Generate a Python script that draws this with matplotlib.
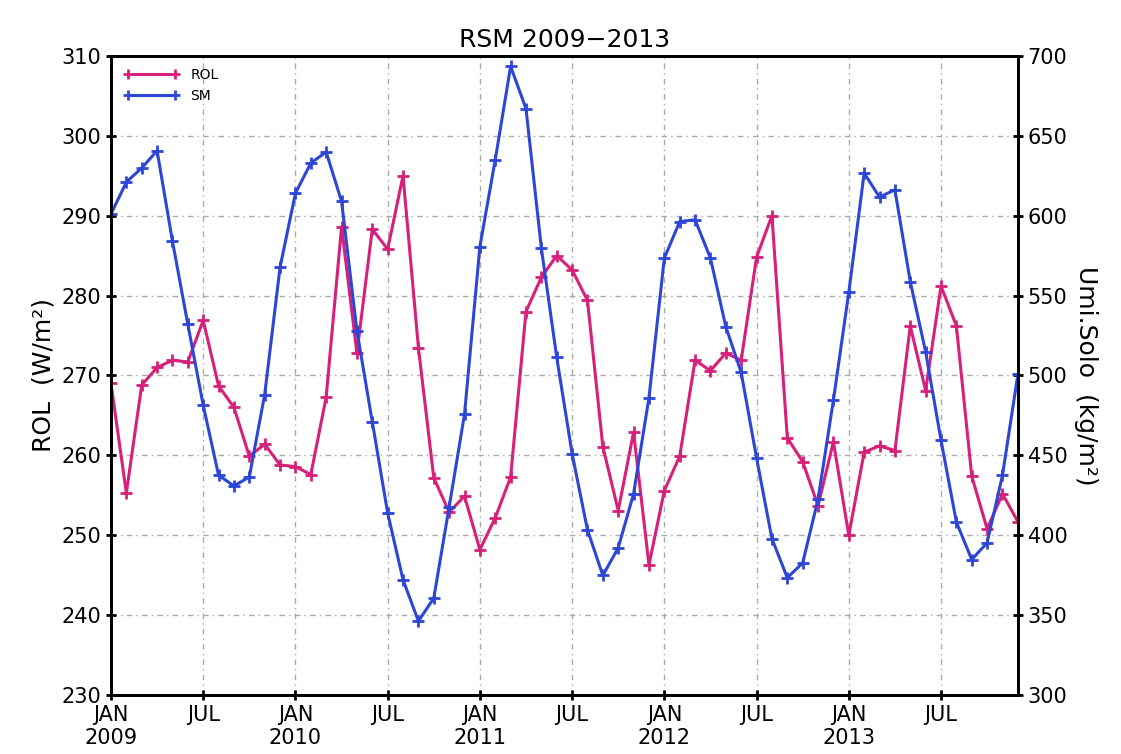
import numpy as np
import matplotlib.pyplot as plt

plt.rcParams['font.family'] = ['Liberation Sans Narrow', 'DejaVu Sans']

months = np.arange(60)

rol = [269.0, 255.3, 268.8, 271.0, 271.9, 271.7, 276.9, 268.7, 266.0, 259.9,
       261.4, 258.8, 258.6, 257.6, 267.3, 288.6, 272.8, 288.3, 285.8, 295.0,
       273.5, 257.2, 252.9, 254.9, 248.2, 252.2, 257.3, 278.0, 282.3, 285.0,
       283.2, 279.4, 261.1, 253.1, 262.9, 246.3, 255.6, 259.9, 271.9, 270.6,
       272.8, 271.9, 284.8, 290.0, 262.2, 259.2, 253.7, 261.7, 250.0, 260.4,
       261.2, 260.6, 276.2, 268.1, 281.2, 276.2, 257.4, 250.8, 255.2, 251.7]

sm = [601.0, 621.0, 629.8, 640.6, 584.0, 532.0, 481.4, 437.6, 430.9, 436.5,
      488.1, 567.7, 614.0, 632.9, 639.8, 609.0, 528.0, 471.0, 414.0, 372.2,
      346.3, 360.7, 417.7, 475.8, 580.6, 635.0, 693.4, 666.9, 579.6, 511.3,
      451.1, 403.4, 374.9, 392.2, 426.0, 486.1, 573.4, 596.3, 597.4, 573.4,
      530.5, 501.9, 448.4, 397.9, 373.5, 382.7, 422.5, 484.6, 552.0, 626.6,
      611.6, 616.2, 558.7, 514.8, 459.5, 408.3, 384.8, 395.4, 437.6, 500.7]

tick_pos = np.arange(0, 60, 6)
tick_labels = ['JAN\n2009', 'JUL', 'JAN\n2010', 'JUL', 'JAN\n2011', 'JUL',
               'JAN\n2012', 'JUL', 'JAN\n2013', 'JUL']

c_rol = '#d6207a'
c_sm = '#2d46d6'

fig = plt.figure(figsize=(11.21, 7.54), dpi=100)
ax = fig.add_axes([0.099, 0.078, 0.809, 0.848])
ax2 = ax.twinx()

l1, = ax.plot(months, rol, color=c_rol, lw=2.2, marker='+', ms=9, mew=2, label='ROL')
l2, = ax2.plot(months, sm, color=c_sm, lw=2.2, marker='+', ms=9, mew=2, label='SM')

ax.set_xlim(0, 59)
ax.set_ylim(230, 310)
ax2.set_ylim(300, 700)
ax.set_yticks(np.arange(230, 311, 10))
ax2.set_yticks(np.arange(300, 701, 50))
ax.set_xticks(tick_pos)
ax.set_xticklabels(tick_labels)

ax.grid(True, color='#aaaaaa', linestyle=(0, (4, 3, 1, 3)), lw=1)
for a in (ax, ax2):
    for s in a.spines.values():
        s.set_linewidth(2)
    a.tick_params(labelsize=15, width=2, length=7, direction='inout')

ax.set_ylabel('ROL  (W/m²)', fontsize=18)
ax2.set_ylabel('Umi.Solo  (kg/m²)', fontsize=18, rotation=270, labelpad=22)
ax.set_title('RSM 2009\u22122013', fontsize=18)

ax.legend([l1, l2], ['ROL', 'SM'], loc='upper left', frameon=False, fontsize=10,
          numpoints=2, handlelength=4, markerscale=0.8)

fig.savefig('out.png', dpi=100)
